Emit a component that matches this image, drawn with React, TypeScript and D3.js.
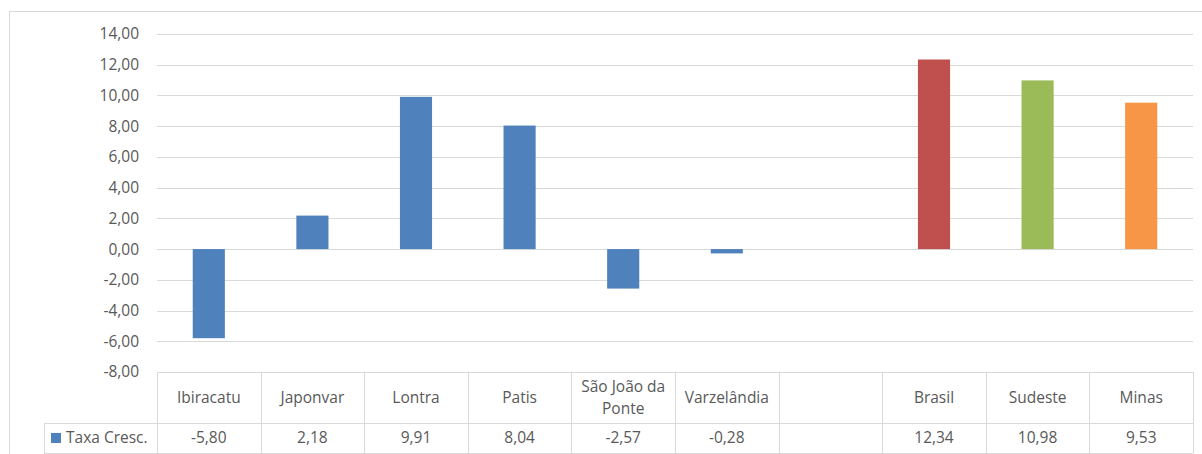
import React from "react";
import * as d3 from "d3";

const categories = ["Ibiracatu", "Japonvar", "Lontra", "Patis", "São João da Ponte", "Varzelândia", "", "Brasil", "Sudeste", "Minas"];
const headerLines = [["Ibiracatu"], ["Japonvar"], ["Lontra"], ["Patis"], ["São João da", "Ponte"], ["Varzelândia"], [], ["Brasil"], ["Sudeste"], ["Minas"]];
const values: (number | null)[] = [-5.8, 2.18, 9.91, 8.04, -2.57, -0.28, null, 12.34, 10.98, 9.53];
const barColors = ["#4F81BD", "#4F81BD", "#4F81BD", "#4F81BD", "#4F81BD", "#4F81BD", "#4F81BD", "#C0504D", "#9BBB59", "#F79646"];
const yTicks = [14, 12, 10, 8, 6, 4, 2, 0, -2, -4, -6, -8];
const seriesName = "Taxa Cresc.";

const W = 1202, H = 454;
const left = 157, right = 1193, top = 34, bottom = 372;
const headerBottom = 423, tableBottom = 453, legendLeft = 44;
const font = "'Open Sans', sans-serif";
const textColor = "#595959";
const gridColor = "#D9D9D9";
const fs = 15.5;

const fmt = (v: number) => v.toFixed(2).replace(".", ",");

export default function App() {
  const x = d3.scaleBand<string>().domain(categories.map((c, i) => String(i))).range([left, right]).paddingInner(0).paddingOuter(0);
  const y = d3.scaleLinear().domain([-8, 14]).range([bottom, top]);
  const bw = x.bandwidth();
  const barW = bw * 0.31;
  return (
    <svg width={W} height={H} style={{ position: "absolute", left: 0, top: 0 }} fontFamily={font}>
      <rect x={0} y={0} width={W} height={H} fill="#fff" />
      <rect x={9.5} y={11.5} width={W - 9} height={H} fill="none" stroke={gridColor} />
      {yTicks.map((t) => (
        <g key={t}>
          {t !== -8 && <line x1={left} x2={right} y1={Math.round(y(t)) + 0.5} y2={Math.round(y(t)) + 0.5} stroke={gridColor} strokeWidth={1} />}
          <text x={139} y={y(t)} dy="0.35em" textAnchor="end" fontSize={fs} fill={textColor}>{fmt(t)}</text>
        </g>
      ))}
      {values.map((v, i) =>
        v === null ? null : (
          <rect key={i} x={x(String(i))! + (bw - barW) / 2} width={barW} y={Math.min(y(v), y(0))} height={Math.abs(y(v) - y(0))} fill={barColors[i]} />
        )
      )}
      {/* table */}
      <line x1={left} x2={right} y1={bottom + 0.5} y2={bottom + 0.5} stroke={gridColor} />
      <line x1={legendLeft} x2={right} y1={headerBottom + 0.5} y2={headerBottom + 0.5} stroke={gridColor} />
      <line x1={legendLeft} x2={right} y1={tableBottom + 0.5} y2={tableBottom + 0.5} stroke={gridColor} />
      <line x1={legendLeft + 0.5} x2={legendLeft + 0.5} y1={headerBottom} y2={tableBottom} stroke={gridColor} />
      {categories.map((c, i) => (
        <line key={"v" + i} x1={Math.round(x(String(i))!) + 0.5} x2={Math.round(x(String(i))!) + 0.5} y1={bottom} y2={tableBottom} stroke={gridColor} />
      ))}
      <line x1={right + 0.5} x2={right + 0.5} y1={bottom} y2={tableBottom} stroke={gridColor} />
      {headerLines.map((lines, i) =>
        lines.map((ln, j) => (
          <text key={i + "-" + j} x={x(String(i))! + bw / 2} y={(bottom + headerBottom) / 2 + (j - (lines.length - 1) / 2) * 22} dy="0.35em" textAnchor="middle" fontSize={fs} fill={textColor}>{ln}</text>
        ))
      )}
      {values.map((v, i) =>
        v === null ? null : (
          <text key={"val" + i} x={x(String(i))! + bw / 2} y={(headerBottom + tableBottom) / 2} dy="0.35em" textAnchor="middle" fontSize={fs} fill={textColor}>{fmt(v)}</text>
        )
      )}
      <rect x={51} y={433} width={10} height={10} fill={barColors[0]} />
      <text x={66} y={(headerBottom + tableBottom) / 2} dy="0.35em" fontSize={fs} fill={textColor}>{seriesName}</text>
    </svg>
  );
}
